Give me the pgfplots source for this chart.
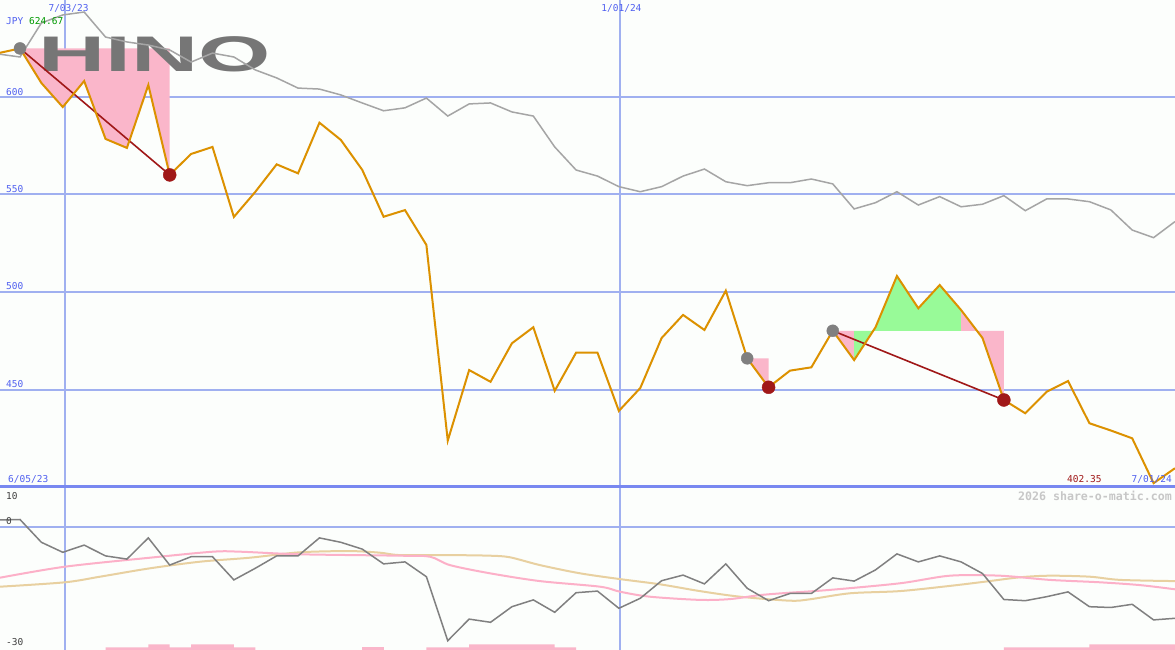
\documentclass[border=0pt]{standalone}
\usepackage{pgfplots}
\pgfplotsset{compat=1.18}
\usepackage{pgfplotstable}
\usepgfplotslibrary{fillbetween}
\usepackage{fontspec}
\newfontfamily\pix{DejaVu Sans Mono}
\newfontfamily\logofont{Liberation Sans}

\definecolor{bgcol}{RGB}{252,254,252}
\definecolor{gridblue}{RGB}{160,176,240}
\definecolor{sepblue}{RGB}{120,136,240}
\definecolor{labblue}{RGB}{80,96,240}
\definecolor{pricecol}{RGB}{220,145,0}
\definecolor{idxgrey}{RGB}{165,165,165}
\definecolor{pinkfill}{RGB}{250,182,202}
\definecolor{greenfill}{RGB}{152,250,152}
\definecolor{darkred}{RGB}{160,24,24}
\definecolor{oscgrey}{RGB}{128,128,128}
\definecolor{oscpink}{RGB}{252,176,200}
\definecolor{osctan}{RGB}{232,208,160}
\definecolor{logogrey}{RGB}{118,118,118}

% week index k: 0 = first marker, 7/03/23 at k=2.1, 1/01/24 at k=28.05
\pgfplotstableread{
k  price  idx   osc
-1 622.3  621.8  1.9
0  624.67 620.3  2.0
1  607.0  637.7 -3.7
2  594.7  641.8 -6.2
3  608.0  643.3 -4.4
4  578.4  630.5 -7.1
5  573.8  628.0 -7.9
6  606.0  626.4 -2.6
7  560.0  623.9 -9.4
8  570.7  617.7 -7.3
9  574.3  622.3 -7.3
10 538.5  620.3 -13.1
11 551.3  613.7 -10.2
12 565.4  609.6 -7.1
13 560.8  604.4 -7.1
14 586.7  603.9 -2.6
15 577.9  600.9 -3.7
16 562.6  596.8 -5.4
17 538.6  592.8 -9.1
18 542.0  594.3 -8.6
19 524.2  599.3 -12.3
20 424.1  590.1 -28.3
21 460.2  596.3 -22.9
22 454.2  596.8 -23.7
23 473.9  592.2 -19.8
24 482.1  590.1 -18.1
25 449.6  574.3 -21.2
26 469.1  562.5 -16.3
27 469.1  559.4 -15.9
28 439.3  554.0 -20.2
29 451.0  551.4 -17.7
30 476.6  554.0 -13.3
31 488.4  559.4 -11.9
32 480.7  563.0 -14.1
33 500.8  556.5 -9.1
34 466.2  554.5 -15.2
35 451.4  556.0 -18.3
36 459.9  556.0 -16.5
37 461.6  557.9 -16.5
38 480.3  555.4 -12.6
39 465.3  542.6 -13.4
40 482.1  545.8 -10.6
41 508.3  551.4 -6.6
42 491.8  544.6 -8.6
43 503.7  548.9 -7.1
44 490.9  543.7 -8.6
45 476.6  545.0 -11.5
46 444.9  549.4 -18.0
47 438.1  541.7 -18.3
48 449.1  547.7 -17.3
49 454.6  547.7 -16.1
50 433.0  546.3 -19.8
51 429.3  542.1 -20.0
52 425.3  531.8 -19.2
53 402.35 527.9 -23.1
54 410.0  536.1 -22.7
}\weekly

\begin{document}
\begin{tikzpicture}
\tikzset{lab/.style={inner sep=0pt, font=\pix\fontsize{9.5}{10}\selectfont}}
\pgfplotsset{
  panel/.style={
    scale only axis, width=1175pt,
    xmin=-0.935, xmax=54,
    axis line style={draw=none}, tick style={draw=none},
    xticklabels={}, yticklabels={},
    xtick={2.104,28.05},
    grid=major, grid style={gridblue, line width=2pt},
    axis background/.style={fill=bgcol},
  },
}
% ---------- price panel ----------
\begin{axis}[panel, at={(0,163pt)}, anchor=south west, height=487pt,
  ymin=400.4, ymax=649.45, ytick={450,500,550,600}]
  \node[inner sep=0pt, text=logogrey, xscale=1.86,
        font=\logofont\bfseries\fontsize{50}{50}\selectfont]
        at (axis cs:6.31,621.6) {HINO};

  \addplot[draw=none, name path=price, forget plot] table[x=k, y=price] {\weekly};
  \addplot[draw=none, name path=lvlA, forget plot] coordinates {(0,624.67) (7,624.67)};
  \addplot[draw=none, name path=lvlB, forget plot] coordinates {(34,466.2) (35,466.2)};
  \addplot[draw=none, name path=lvlC, forget plot] coordinates {(38,480.3) (46,480.3)};

  \addplot[fill=pinkfill, draw=none] fill between[of=price and lvlA, soft clip={domain=0:7}];
  \addplot[fill=pinkfill, draw=none] fill between[of=price and lvlB, soft clip={domain=34:35}];
  \addplot[fill=pinkfill, draw=none] fill between[of=price and lvlC, soft clip={domain=38:39}];
  \addplot[fill=greenfill, draw=none] fill between[of=price and lvlC, soft clip={domain=39:44}];
  \addplot[fill=pinkfill, draw=none] fill between[of=price and lvlC, soft clip={domain=44:46}];

  \addplot[idxgrey, line width=1.5pt] table[x=k, y=idx] {\weekly};

  \addplot[darkred, line width=1.6pt] coordinates {(0,624.67) (7,560.0)};
  \addplot[darkred, line width=1.6pt] coordinates {(38,480.3) (46,444.9)};
  \addplot[only marks, mark=*, mark size=6pt, oscgrey] coordinates {(0,624.67) (34,466.2) (38,480.3)};
  \addplot[only marks, mark=*, mark size=6.5pt, darkred] coordinates {(7,560.0) (35,451.4) (46,444.9)};

  \addplot[pricecol, line width=2pt] table[x=k, y=price] {\weekly};

  \node[lab, anchor=west] at (axis cs:-0.654,638.7) {\textcolor{labblue}{JPY}\ \textcolor{green!60!black}{624.67}};
  \node[lab, text=labblue] at (axis cs:2.27,644.9) {7/03/23};
  \node[lab, text=labblue] at (axis cs:28.12,644.9) {1/01/24};
  \node[lab, text=labblue, anchor=west] at (axis cs:-0.654,602.6) {600};
  \node[lab, text=labblue, anchor=west] at (axis cs:-0.654,552.8) {550};
  \node[lab, text=labblue, anchor=west] at (axis cs:-0.654,503.3) {500};
  \node[lab, text=labblue, anchor=west] at (axis cs:-0.654,453.1) {450};
  \node[lab, text=labblue, anchor=west] at (axis cs:-0.561,404.5) {6/05/23};
  \node[lab, text=darkred, anchor=west] at (axis cs:48.95,404.5) {402.35};
  \node[lab, text=labblue, anchor=east] at (axis cs:53.86,404.5) {7/01/24};
\end{axis}
% ---------- oscillator panel ----------
\begin{axis}[panel, at={(0,0)}, anchor=south west, height=163pt,
  ymin=-30.625, ymax=10.125, ytick={0}, clip=false]
  \addplot[fill=pinkfill, draw=none] coordinates {(4,-30.625) (4,-30) (6,-30) (6,-29.25) (7,-29.25) (7,-30) (8,-30) (8,-29.25) (10,-29.25) (10,-30) (11,-30) (11,-30.625)} -- cycle;
  \addplot[fill=pinkfill, draw=none] coordinates {(16,-30.625) (16,-30) (17,-30) (17,-30.625)} -- cycle;
  \addplot[fill=pinkfill, draw=none] coordinates {(19,-30.625) (19,-30) (21,-30) (21,-29.25) (25,-29.25) (25,-30) (26,-30) (26,-30.625)} -- cycle;
  \addplot[fill=pinkfill, draw=none] coordinates {(46,-30.625) (46,-30) (50,-30) (50,-29.25) (54,-29.25) (54,-30.625)} -- cycle;

  \addplot[osctan, line width=2pt, smooth] coordinates {
    (-0.935,-14.8) (2.1,-13.7) (3.74,-12.3) (6.08,-10.2) (8.42,-8.55) (10.75,-7.55)
    (13.09,-6.2) (15.43,-5.9) (16.83,-6.3) (17.77,-6.9) (20.1,-6.9) (21.97,-7.05)
    (22.91,-7.45) (24.31,-9.4) (26.18,-11.45) (28.05,-12.9) (29.92,-14.2) (31.79,-15.9)
    (33.66,-17.3) (36.0,-18.3) (36.93,-17.95) (38.8,-16.45) (41.14,-15.9) (43.48,-14.6)
    (45.11,-13.55) (46.75,-12.45) (48.15,-12.05) (50.02,-12.3) (51.43,-13.1) (54,-13.4)};
  \addplot[oscpink, line width=2pt, smooth] coordinates {
    (-0.935,-12.55) (2.1,-9.8) (6.08,-7.55) (9.02,-6.05) (10.29,-6.05) (13.09,-6.7)
    (17.77,-7.05) (19.17,-7.3) (20.1,-9.4) (21.97,-11.45) (24.31,-13.4) (27.12,-14.8)
    (28.05,-16.05) (29.45,-17.3) (31.79,-18.1) (33.19,-17.9) (34.6,-16.9) (36.0,-16.3)
    (37.87,-15.6) (41.14,-13.95) (43.48,-12.05) (45.82,-12.05) (48.15,-13.1)
    (50.49,-13.7) (52.36,-14.4) (54,-15.45)};
  \addplot[oscgrey, line width=1.5pt] table[x=k, y=osc] {\weekly};

  \addplot[sepblue, line width=3pt] coordinates {(-0.935,10.125) (54,10.125)};

  \node[lab, text=black!75, anchor=west] at (axis cs:-0.654,7.875) {10};
  \node[lab, text=black!75, anchor=west] at (axis cs:-0.654,1.5) {0};
  \node[lab, text=black!75, anchor=west] at (axis cs:-0.654,-28.6) {-30};
  \node[inner sep=0pt, text=black!22, anchor=east,
        font=\pix\bfseries\fontsize{11.6}{12}\selectfont] at (axis cs:53.86,7.875) {2026 share-o-matic.com};
\end{axis}
\pgfresetboundingbox
\path[use as bounding box] (0,0) rectangle (1175pt,650pt);
\end{tikzpicture}
\end{document}
